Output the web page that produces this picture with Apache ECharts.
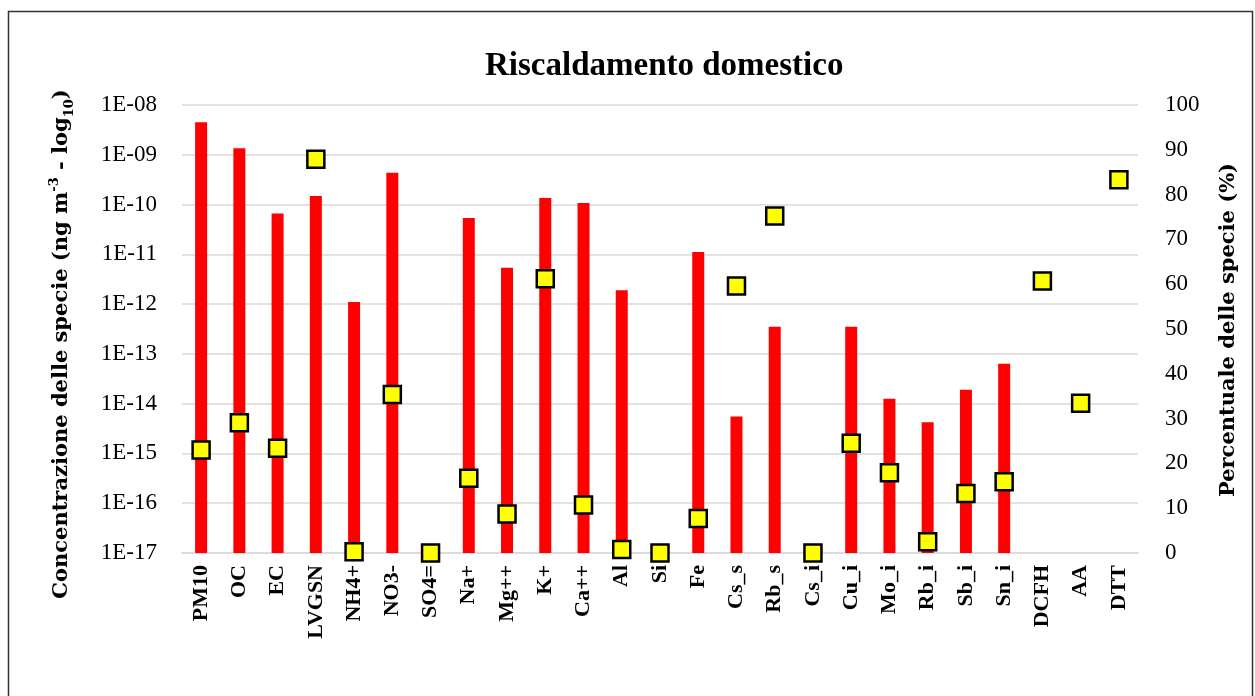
<!DOCTYPE html>
<html>
<head>
<meta charset="utf-8">
<script src="https://cdn.jsdelivr.net/npm/echarts@6/dist/echarts.min.js"></script>
<style>
  html, body { margin: 0; padding: 0; background: #fff; }
  #chart { width: 1255px; height: 696px; }
</style>
</head>
<body>
<div id="chart"></div>
<script>
// ---- data ----
const categories = ['PM10','OC','EC','LVGSN','NH4+','NO3-','SO4=','Na+','Mg++','K+','Ca++','Al','Si','Fe','Cs_s','Rb_s','Cs_i','Cu_i','Mo_i','Rb_i','Sb_i','Sn_i','DCFH','AA','DTT'];
// concentration (left, log axis)
const concentration = [4.5e-9, 1.35e-9, 6.6e-11, 1.48e-10, 1.1e-12, 4.35e-10, null, 5.4e-11, 5.4e-12, 1.35e-10, 1.08e-10, 1.9e-12, null, 1.12e-11, 5.5e-15, 3.5e-13, null, 3.5e-13, 1.25e-14, 4.2e-15, 1.9e-14, 6.3e-14, null, null, null];
// percentage (right axis)
const percentage = [23.0, 29.1, 23.4, 87.9, 0.3, 35.4, 0, 16.7, 8.7, 61.2, 10.7, 0.8, 0, 7.7, 59.6, 75.2, 0, 24.5, 17.9, 2.5, 13.3, 15.9, 60.7, 33.4, 83.3];
const leftTickLabels = ['1E-17','1E-16','1E-15','1E-14','1E-13','1E-12','1E-11','1E-10','1E-09','1E-08'];
const rightTickLabels = ['0','10','20','30','40','50','60','70','80','90','100'];

const LOG_MIN = 1e-17, LOG_MAX = 1e-8;
// invisible base so bars on the log axis rise from the axis minimum
const barBase = categories.map(() => LOG_MIN);

const serif = '"Liberation Serif", "DejaVu Serif", serif';
const wideSerif = '"DejaVu Serif", "Liberation Serif", serif';
const chart = echarts.init(document.getElementById('chart'));
chart.setOption({
  backgroundColor: '#fff',
  animation: false,
  title: {
    text: 'Riscaldamento domestico',
    left: 480,
    top: 45,
    textStyle: { fontFamily: serif, fontWeight: 'bold', fontSize: 33, color: '#000' }
  },
  grid: { left: 182, right: 117, top: 105, bottom: 143, containLabel: false },
  xAxis: {
    type: 'category',
    data: categories,
    axisLine: { show: true, lineStyle: { color: '#d9d9d9', width: 1.5 } },
    axisTick: { show: false },
    axisLabel: {
      rotate: 90, interval: 0, margin: 12,
      fontFamily: serif, fontWeight: 'bold', fontSize: 22, color: '#000'
    }
  },
  yAxis: [
    {
      type: 'log', logBase: 10, min: LOG_MIN, max: LOG_MAX,
      axisLine: { show: false }, axisTick: { show: false },
      splitLine: { show: true, lineStyle: { color: '#d9d9d9', width: 1.5 } },
      axisLabel: {
        margin: 25, fontFamily: serif, fontSize: 23, color: '#000',
        formatter: function (v) {
          const e = Math.round(Math.log10(v));
          return leftTickLabels[e + 17];
        }
      }
    },
    {
      type: 'value', min: 0, max: 100, interval: 10,
      axisLine: { show: false }, axisTick: { show: false },
      splitLine: { show: false },
      axisLabel: {
        margin: 27, fontFamily: serif, fontSize: 23, color: '#000',
        formatter: function (v) { return rightTickLabels[Math.round(v / 10)]; }
      }
    }
  ],
  series: [
    {
      type: 'bar', yAxisIndex: 0, data: barBase, barWidth: 12, stack: 'c',
      itemStyle: { color: 'rgba(0,0,0,0)' }, silent: true, z: 1
    },
    {
      type: 'bar', yAxisIndex: 0, data: concentration, barWidth: 12, stack: 'c',
      itemStyle: { color: '#ff0000' }, z: 2
    },
    {
      type: 'scatter', yAxisIndex: 1, data: percentage, clip: false,
      symbol: 'rect', symbolSize: 17,
      itemStyle: { color: '#ffff00', borderColor: '#000', borderWidth: 2.5, opacity: 1 },
      z: 5
    }
  ],
  graphic: [
    {
      type: 'rect', silent: true, z: -1,
      shape: { x: 8.5, y: 11.5, width: 1244, height: 700 },
      style: { fill: null, stroke: '#333', lineWidth: 1.5 }
    },
    {
      type: 'text', x: 62, y: 344, rotation: Math.PI / 2,
      style: {
        text: '{b|Concentrazione delle specie (ng m}{sup|-3}{b| - log}{sub|10}{b|)}',
        align: 'center', verticalAlign: 'middle',
        rich: {
          b: { fontFamily: wideSerif, fontWeight: 'bold', fontSize: 21, lineHeight: 28, fill: '#000' },
          sup: { fontFamily: wideSerif, fontWeight: 'bold', fontSize: 13, lineHeight: 28, verticalAlign: 'top', fill: '#000', padding: [0, 0, 8, 0] },
          sub: { fontFamily: wideSerif, fontWeight: 'bold', fontSize: 13, lineHeight: 28, verticalAlign: 'bottom', fill: '#000' }
        }
      }
    },
    {
      type: 'text', x: 1229, y: 330, rotation: Math.PI / 2,
      style: {
        text: 'Percentuale delle specie (%)',
        align: 'center', verticalAlign: 'middle',
        fontFamily: wideSerif, fontWeight: 'bold', fontSize: 21, fill: '#000'
      }
    }
  ]
});
</script>
</body>
</html>
